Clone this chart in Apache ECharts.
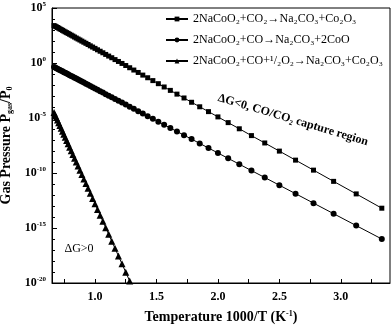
<!DOCTYPE html>
<html>
<head>
<meta charset="utf-8">
<script src="https://cdn.jsdelivr.net/npm/echarts@6/dist/echarts.min.js"></script>
<style>html,body{margin:0;padding:0;background:#fff}#c{width:392px;height:328px}</style>
</head>
<body>
<div id="c"></div>
<script>
// Temperatures (K); x axis is 1000/T
var temperaturesK = [1500,1480,1460,1440,1420,1400,1380,1360,1340,1320,1300,1280,1260,1240,1220,1200,1180,1160,1140,1120,1100,1080,1060,1040,1020,1000,980,960,940,920,900,880,860,840,820,800,780,760,740,720,700,680,660,640,620,600,580,560,540,520,500,480,460,440,420,400,380,360,340,320,300];
// log10(Pgas/P0)
var log10P_CO2 = [3.40,3.34,3.29,3.23,3.17,3.10,3.04,2.97,2.90,2.83,2.76,2.69,2.61,2.53,2.45,2.36,2.27,2.18,2.09,1.99,1.89,1.79,1.68,1.56,1.45,1.33,1.20,1.07,0.93,0.78,0.63,0.48,0.31,0.14,-0.04,-0.23,-0.43,-0.64,-0.86,-1.10,-1.34,-1.60,-1.88,-2.18,-2.49,-2.83,-3.18,-3.57,-3.98,-4.42,-4.90,-5.42,-5.98,-6.60,-7.27,-8.01,-8.83,-9.74,-10.76,-11.90,-13.20];
var log10P_CO = [-0.36,-0.41,-0.47,-0.52,-0.58,-0.64,-0.70,-0.76,-0.83,-0.89,-0.96,-1.03,-1.11,-1.18,-1.26,-1.34,-1.42,-1.51,-1.59,-1.69,-1.78,-1.88,-1.98,-2.09,-2.20,-2.31,-2.43,-2.56,-2.69,-2.83,-2.97,-3.11,-3.27,-3.43,-3.60,-3.78,-3.97,-4.17,-4.38,-4.60,-4.83,-5.07,-5.34,-5.61,-5.91,-6.23,-6.56,-6.92,-7.31,-7.73,-8.18,-8.67,-9.20,-9.78,-10.41,-11.11,-11.88,-12.74,-13.70,-14.78,-16.00];
var log10P_COO2 = [-4.50,-4.72,-4.95,-5.19,-5.43,-5.69,-5.94,-6.21,-6.48,-6.76,-7.05,-7.35,-7.66,-7.98,-8.31,-8.65,-9.00,-9.37,-9.74,-10.13,-10.54,-10.95,-11.39,-11.84,-12.31,-12.80,-13.31,-13.84,-14.39,-14.97,-15.57,-16.20,-16.85,-17.54,-18.26,-19.02,-19.82];
var seriesNames = [
  '2NaCoO\u2082+CO\u2082\u2192Na\u2082CO\u2083+Co\u2082O\u2083',
  '2NaCoO\u2082+CO\u2192Na\u2082CO\u2083+2CoO',
  '2NaCoO\u2082+CO+\u00b9/\u2082O\u2082\u2192Na\u2082CO\u2083+Co\u2082O\u2083'
];
var xLabelValues = [1.0,1.5,2.0,2.5,3.0];
var xTickValues = [0.75,1.0,1.25,1.5,1.75,2.0,2.25,2.5,2.75,3.0,3.25];

function pairs(ys){ return ys.map(function(y,i){ return [1000/temperaturesK[i], y]; }); }

var FONT = 'Liberation Serif, "Times New Roman", serif';
var chart = echarts.init(document.getElementById('c'), null, {renderer:'canvas'});
var common = {type:'line', color:'#000', lineStyle:{color:'#000', width:1}, itemStyle:{color:'#000'}, showSymbol:true, animation:false};
chart.setOption({
  animation:false,
  backgroundColor:'#fff',
  grid:{left:52, right:2, top:8, bottom:45, show:true, borderColor:'#000', borderWidth:1, containLabel:false, outerBoundsMode:'none'},
  legend:{
    orient:'vertical', left:160, top:8, itemGap:9, itemWidth:22, itemHeight:6,
    textStyle:{fontFamily:FONT, fontSize:12, color:'#000'},
    data: seriesNames
  },
  xAxis:{
    type:'value', min:0.65, max:3.4,
    name:'Temperature 1000/T (K{s|-1})', nameLocation:'middle', nameGap:27,
    nameTextStyle:{fontFamily:FONT, fontSize:14, fontWeight:'bold', color:'#000',
      rich:{s:{fontFamily:FONT, fontSize:8, fontWeight:'bold', verticalAlign:'top', lineHeight:10, color:'#000'}}},
    axisLine:{onZero:false, lineStyle:{color:'#000', width:1}},
    axisTick:{inside:true, length:4, customValues:xTickValues, lineStyle:{color:'#000'}},
    axisLabel:{customValues:xLabelValues, fontFamily:FONT, fontSize:12, fontWeight:'bold', color:'#000', margin:8,
      formatter:function(v){ return v.toFixed(1); }},
    splitLine:{show:false}
  },
  yAxis:{
    type:'value', min:-20, max:5, interval:5,
    name:'Gas Pressure P{b|gas}/P{b|0}', nameLocation:'middle', nameGap:36,
    nameTextStyle:{fontFamily:FONT, fontSize:14, fontWeight:'bold', color:'#000',
      rich:{b:{fontFamily:FONT, fontSize:8, fontWeight:'bold', verticalAlign:'bottom', lineHeight:10, color:'#000'}}},
    axisLine:{onZero:false, lineStyle:{color:'#000', width:1}},
    axisTick:{inside:true, length:5, lineStyle:{color:'#000'}},
    minorTick:{show:true, splitNumber:5, length:3, lineStyle:{color:'#000'}},
    axisLabel:{margin:6, formatter:function(v){ return '{a|10}{s|' + v + '}'; },
      rich:{a:{fontFamily:FONT, fontSize:12, fontWeight:'bold', color:'#000', lineHeight:14},
            s:{fontFamily:FONT, fontSize:7, fontWeight:'bold', color:'#000', verticalAlign:'top', lineHeight:8}}},
    splitLine:{show:false}
  },
  graphic:[
    {type:'text', x:293, y:120, rotation:-0.29,
     style:{text:'\u0394G<0, CO/CO\u2082 capture region', font:'bold 12px ' + FONT, fill:'#000', align:'center', verticalAlign:'middle'}},
    {type:'text', x:79, y:249,
     style:{text:'\u0394G>0', font:'12px ' + FONT, fill:'#000', align:'center', verticalAlign:'middle'}}
  ],
  series:[
    Object.assign({name:seriesNames[0], symbol:'rect', symbolSize:5, data:pairs(log10P_CO2)}, common),
    Object.assign({name:seriesNames[1], symbol:'circle', symbolSize:6, data:pairs(log10P_CO)}, common),
    Object.assign({name:seriesNames[2], symbol:'triangle', symbolSize:7, data:pairs(log10P_COO2)}, common)
  ]
});
</script>
</body>
</html>
